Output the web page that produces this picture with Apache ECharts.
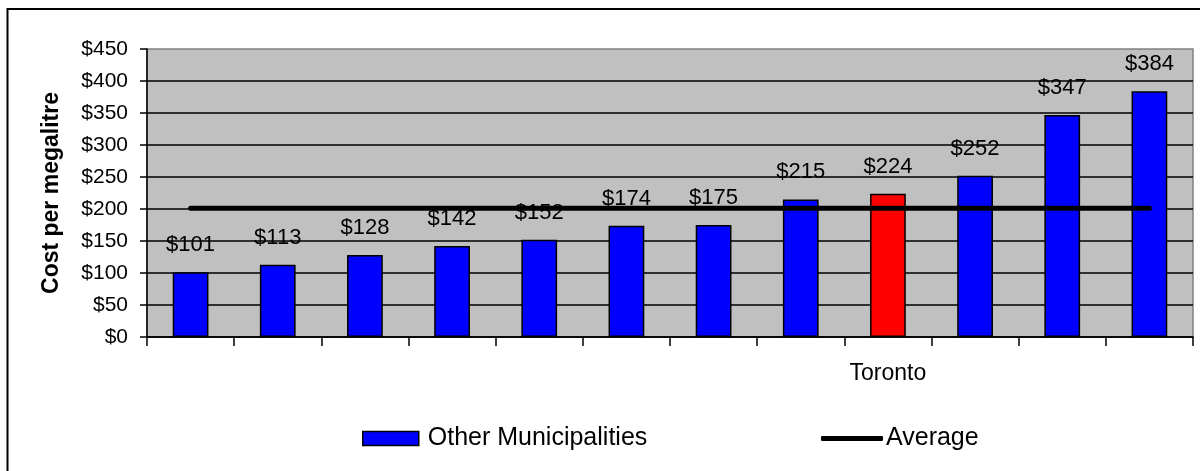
<!DOCTYPE html>
<html>
<head>
<meta charset="utf-8">
<title>Cost per megalitre</title>
<script src="https://cdn.jsdelivr.net/npm/echarts@6/dist/echarts.min.js"></script>
<style>
  html, body { margin: 0; padding: 0; background: #ffffff; }
  #chart { width: 1200px; height: 471px; }
</style>
</head>
<body>
<div id="chart"></div>
<script>
// Municipalities ranked by cost; only Toronto is named on the axis
const categories = ['', '', '', '', '', '', '', '', 'Toronto', '', '', ''];
const costValues = [101, 113, 128, 142, 152, 174, 175, 215, 224, 252, 347, 384];
const averageValues = [201, 201, 201, 201, 201, 201, 201, 201, 201, 201, 201, 201];
const highlightName = 'Toronto';
const yTicks = { min: 0, max: 450, interval: 50 };

const FONT = '"Liberation Sans", Arial, sans-serif';

const barData = costValues.map((v, i) => (
  categories[i] === highlightName
    ? { value: v, itemStyle: { color: '#FF0000' } }
    : v
));

const chart = echarts.init(document.getElementById('chart'));

chart.setOption({
  animation: false,
  backgroundColor: '#ffffff',
  textStyle: { fontFamily: FONT },
  graphic: [{
    type: 'rect',
    shape: { x: 7.5, y: 9, width: 1210, height: 480 },
    style: { fill: 'none', stroke: '#000000', lineWidth: 2 },
    silent: true
  }],
  grid: {
    left: 147, right: 7, top: 49, bottom: 134,
    show: true,
    backgroundColor: '#C0C0C0',
    borderColor: '#808080',
    borderWidth: 1.5
  },
  legend: [{
    data: ['Other Municipalities'],
    left: 362, top: 426,
    padding: 0,
    icon: 'rect',
    itemWidth: 56, itemHeight: 14,
    itemStyle: { borderColor: '#000000', borderWidth: 1.5 },
    textStyle: { fontFamily: FONT, fontSize: 25, color: '#000000', padding: [0, 0, 0, 4] }
  }, {
    data: ['Average'],
    left: 821, top: 426,
    padding: 0,
    icon: 'roundRect',
    itemWidth: 62, itemHeight: 5,
    itemStyle: { color: '#000000', borderWidth: 0 },
    textStyle: { fontFamily: FONT, fontSize: 25, color: '#000000', padding: [0, 0, 0, -2] }
  }],
  xAxis: {
    type: 'category',
    data: categories,
    boundaryGap: true,
    axisLine: { lineStyle: { color: '#000000', width: 1.5 } },
    axisTick: { show: true, alignWithLabel: false, length: 9, lineStyle: { color: '#000000', width: 1.5 } },
    axisLabel: { interval: 0, margin: 25, fontSize: 23, color: '#000000', fontFamily: FONT },
    splitLine: { show: false }
  },
  yAxis: {
    type: 'value',
    min: yTicks.min, max: yTicks.max, interval: yTicks.interval,
    name: 'Cost per megalitre',
    nameLocation: 'middle',
    nameGap: 84,
    nameTextStyle: { fontFamily: FONT, fontSize: 23, fontWeight: 'bold', color: '#000000' },
    axisLine: { show: true, lineStyle: { color: '#000000', width: 1.5 } },
    axisTick: { show: true, inside: false, length: 7, lineStyle: { color: '#000000', width: 1.5 } },
    axisLabel: {
      margin: 19, fontSize: 21, color: '#000000', fontFamily: FONT,
      formatter: v => '$' + v
    },
    splitLine: { show: true, showMaxLine: false, lineStyle: { color: '#000000', width: 1.5 } }
  },
  series: [{
    name: 'Other Municipalities',
    type: 'bar',
    data: barData,
    barWidth: '41%',
    itemStyle: { color: '#0000FF', borderColor: '#000000', borderWidth: 1.5 },
    label: {
      show: true,
      position: 'top',
      distance: 16,
      fontFamily: FONT,
      fontSize: 22,
      color: '#000000',
      formatter: p => '$' + p.value
    },
    z: 2
  }, {
    name: 'Average',
    type: 'line',
    data: averageValues,
    symbol: 'none',
    lineStyle: { color: '#000000', width: 5, cap: 'round' },
    itemStyle: { color: '#000000' },
    z: 3
  }]
});
</script>
</body>
</html>
